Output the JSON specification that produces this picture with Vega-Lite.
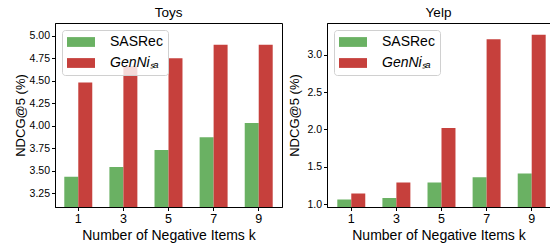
{
  "$schema": "https://vega.github.io/schema/vega-lite/v6.json",
  "padding": {"left": 13, "top": 5, "right": 0, "bottom": 0},
  "spacing": 5,
  "background": "white",
  "config": {
    "font": "Liberation Sans",
    "view": {"stroke": "black", "strokeWidth": 1},
    "axis": {
      "domainColor": "black",
      "tickColor": "black",
      "tickSize": 3.5,
      "labelColor": "black",
      "titleColor": "black",
      "labelFont": "Liberation Sans",
      "titleFont": "Liberation Sans",
      "titleFontWeight": "normal",
      "grid": false,
      "labelPadding": 2
    },
    "title": {"font": "Liberation Sans", "fontSize": 13.5, "fontWeight": "normal", "offset": 4, "color": "black"},
    "legend": {
      "orient": "top-left",
      "offset": 7,
      "title": null,
      "labelFont": "Liberation Sans",
      "labelFontSize": 14,
      "labelColor": "black",
      "symbolType": "M-2,-0.7H2V0.7H-2Z",
      "symbolSize": 196,
      "symbolStrokeWidth": 0,
      "symbolOffset": 7,
      "labelOffset": 22,
      "rowPadding": 7,
      "padding": 5,
      "strokeColor": "#d0d0d0",
      "fillColor": "rgba(255,255,255,0.8)",
      "cornerRadius": 3
    }
  },
  "data": {
    "values": [
      {"dataset": "Toys", "k": 1, "model": "SASRec", "ndcg": 3.43},
      {"dataset": "Toys", "k": 3, "model": "SASRec", "ndcg": 3.54},
      {"dataset": "Toys", "k": 5, "model": "SASRec", "ndcg": 3.73},
      {"dataset": "Toys", "k": 7, "model": "SASRec", "ndcg": 3.87},
      {"dataset": "Toys", "k": 9, "model": "SASRec", "ndcg": 4.03},
      {"dataset": "Toys", "k": 1, "model": "GenNiSA", "ndcg": 4.48},
      {"dataset": "Toys", "k": 3, "model": "GenNiSA", "ndcg": 4.66},
      {"dataset": "Toys", "k": 5, "model": "GenNiSA", "ndcg": 4.75},
      {"dataset": "Toys", "k": 7, "model": "GenNiSA", "ndcg": 4.9},
      {"dataset": "Toys", "k": 9, "model": "GenNiSA", "ndcg": 4.9},
      {"dataset": "Yelp", "k": 1, "model": "SASRec", "ndcg": 1.06},
      {"dataset": "Yelp", "k": 3, "model": "SASRec", "ndcg": 1.08},
      {"dataset": "Yelp", "k": 5, "model": "SASRec", "ndcg": 1.29},
      {"dataset": "Yelp", "k": 7, "model": "SASRec", "ndcg": 1.36},
      {"dataset": "Yelp", "k": 9, "model": "SASRec", "ndcg": 1.41},
      {"dataset": "Yelp", "k": 1, "model": "GenNiSA", "ndcg": 1.14},
      {"dataset": "Yelp", "k": 3, "model": "GenNiSA", "ndcg": 1.29},
      {"dataset": "Yelp", "k": 5, "model": "GenNiSA", "ndcg": 2.02},
      {"dataset": "Yelp", "k": 7, "model": "GenNiSA", "ndcg": 3.21},
      {"dataset": "Yelp", "k": 9, "model": "GenNiSA", "ndcg": 3.27}
    ]
  },
  "hconcat": [
    {
      "title": "Toys",
      "width": 227,
      "height": 184,
      "transform": [{"filter": "datum.dataset === 'Toys'"}],
      "mark": {"type": "bar", "clip": true},
      "encoding": {
        "x": {
          "field": "k", "type": "ordinal",
          "scale": {"paddingInner": 0.38, "paddingOuter": 0.206, "align": 0.5},
          "axis": {"title": "Number of Negative Items k", "labelAngle": 0, "labelFontSize": 12.5, "titleFontSize": 14, "titlePadding": 3}
        },
        "xOffset": {"field": "model", "type": "nominal", "sort": ["SASRec", "GenNiSA"]},
        "y": {
          "field": "ndcg", "type": "quantitative",
          "scale": {"domain": [3.095, 5.141], "zero": false, "nice": false},
          "axis": {"title": "NDCG@5 (%)", "values": [3.25, 3.5, 3.75, 4.0, 4.25, 4.5, 4.75, 5.0], "format": ".2f", "labelFontSize": 10.5, "titleFontSize": 13, "titlePadding": 2}
        },
        "color": {
          "field": "model", "type": "nominal",
          "scale": {"domain": ["SASRec", "GenNiSA"], "range": ["#6AB163", "#C6403C"]},
          "legend": {
            "labelExpr": "datum.label === 'GenNiSA' ? 'GenNiₛₐ' : datum.label",
            "encode": {"labels": {"update": {"fontStyle": {"signal": "datum.label === 'GenNiSA' ? 'italic' : 'normal'"}}}}
          }
        }
      }
    },
    {
      "title": "Yelp",
      "width": 223,
      "height": 184,
      "transform": [{"filter": "datum.dataset === 'Yelp'"}],
      "mark": {"type": "bar", "clip": true},
      "encoding": {
        "x": {
          "field": "k", "type": "ordinal",
          "scale": {"paddingInner": 0.38, "paddingOuter": 0.162, "align": 0.705},
          "axis": {"title": "Number of Negative Items k", "labelAngle": 0, "labelFontSize": 12.5, "titleFontSize": 14, "titlePadding": 3}
        },
        "xOffset": {"field": "model", "type": "nominal", "sort": ["SASRec", "GenNiSA"]},
        "y": {
          "field": "ndcg", "type": "quantitative",
          "scale": {"domain": [0.96, 3.428], "zero": false, "nice": false},
          "axis": {"title": "NDCG@5 (%)", "values": [1.0, 1.5, 2.0, 2.5, 3.0], "format": ".1f", "labelFontSize": 10.5, "titleFontSize": 13, "titlePadding": 5}
        },
        "color": {
          "field": "model", "type": "nominal",
          "scale": {"domain": ["SASRec", "GenNiSA"], "range": ["#6AB163", "#C6403C"]},
          "legend": {
            "labelExpr": "datum.label === 'GenNiSA' ? 'GenNiₛₐ' : datum.label",
            "encode": {"labels": {"update": {"fontStyle": {"signal": "datum.label === 'GenNiSA' ? 'italic' : 'normal'"}}}}
          }
        }
      }
    }
  ],
  "resolve": {"scale": {"x": "independent", "y": "independent", "xOffset": "independent"}, "legend": {"color": "independent"}}
}
